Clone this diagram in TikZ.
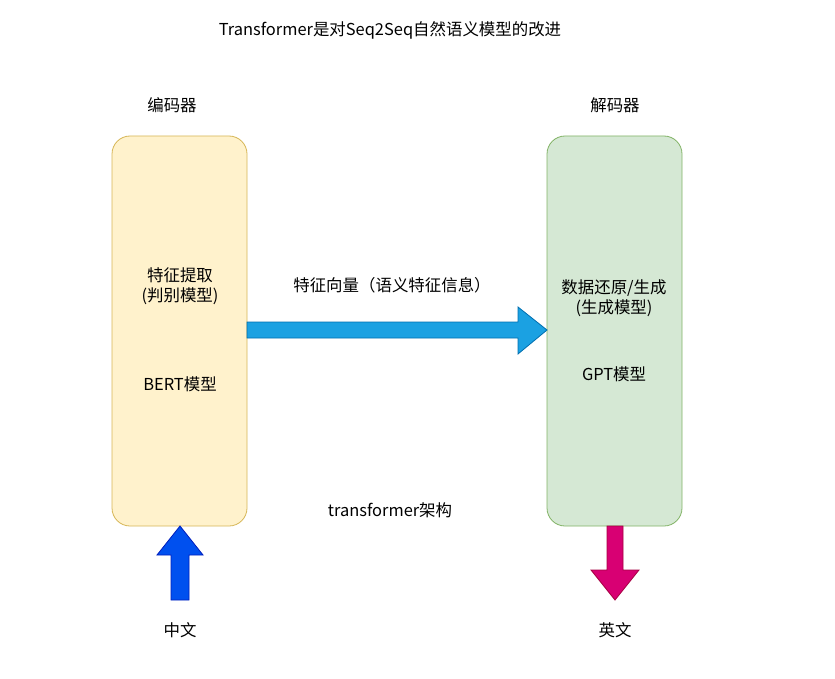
\documentclass[tikz,border=0pt]{standalone}
\usepackage{fontspec}
\setmainfont{Noto Sans CJK SC}
\begin{document}
\begin{tikzpicture}[x=1bp,y=-1bp,
  lbl/.style={font=\fontsize{16.5}{20}\selectfont,align=center,inner sep=0},
  enc/.style={draw=encD,fill=encF,rounded corners=18bp,line width=0.8bp},
  dec/.style={draw=decD,fill=decF,rounded corners=18bp,line width=0.8bp}]
\definecolor{encF}{HTML}{FFF2CC}\definecolor{encD}{HTML}{D6B656}
\definecolor{decF}{HTML}{D5E8D4}\definecolor{decD}{HTML}{82B366}
\definecolor{bF}{HTML}{1BA1E2}\definecolor{bD}{HTML}{006EAF}
\definecolor{uF}{HTML}{0050EF}\definecolor{uD}{HTML}{001DBC}
\definecolor{pF}{HTML}{D80073}\definecolor{pD}{HTML}{A50040}
\useasboundingbox (0,0) rectangle (835,679);
\draw[enc] (112,136) rectangle (247,526);
\draw[dec] (547,136) rectangle (682,526);
\coordinate (encR) at (247,330);
\coordinate (decL) at (547,330);
\coordinate (encB) at (180,526);
\coordinate (decB) at (615,526);
\draw[fill=bF,draw=bD,line width=0.8bp] (encR)++(0,-8) -- (518,322) -- (518,307) -- (decL) -- (518,354) -- (518,338) -- (247,338) -- cycle;
\draw[fill=uF,draw=uD,line width=0.8bp] (171,600) -- (171,555) -- (157,555) -- (encB) -- (203,555) -- (189,555) -- (189,600) -- cycle;
\draw[fill=pF,draw=pD,line width=0.8bp] (607,526) -- (607,570) -- (591,570) -- (615,600) -- (639,570) -- (623,570) -- (623,526) -- cycle;
\node[lbl] (title) at (390,30) {Transformer是对Seq2Seq自然语义模型的改进};
\node[lbl] (encT) at (172,105) {编码器};
\node[lbl] (decT) at (615,105) {解码器};
\node[lbl] (e1) at (180,286) {特征提取\\(判别模型)};
\node[lbl] (e2) at (180,384) {BERT模型};
\node[lbl] (mid) at (392,285) {特征向量（语义特征信息）};
\node[lbl] (d1) at (614,298) {数据还原/生成\\(生成模型)};
\node[lbl] (d2) at (614,374) {GPT模型};
\node[lbl] (arch) at (390,510) {transformer架构};
\node[lbl] (zh) at (180,630) {中文};
\node[lbl] (en) at (615,630) {英文};
\end{tikzpicture}
\end{document}
